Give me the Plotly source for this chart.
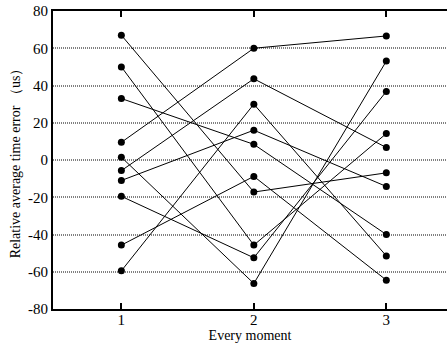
import plotly.graph_objects as go

moments = [1, 2, 3]
series = [
    [67, -17.2, -6.9],
    [50, -45.7, 14.2],
    [33, 8.4, -40],
    [9.5, 60, 66.6],
    [1.5, -66.3, 53.1],
    [-5.7, 43.6, 6.7],
    [-11, 16, -14.2],
    [-19.5, -52.5, 36.8],
    [-45.7, -8.8, -64.5],
    [-59.5, 30, -51.5],
]
y_ticks = [80, 60, 40, 20, 0, -20, -40, -60, -80]
x_ticks = [1, 2, 3]

fig = go.Figure()
for s in series:
    fig.add_trace(go.Scatter(
        x=moments, y=s, mode="lines+markers",
        line=dict(color="black", width=1),
        marker=dict(color="black", size=7),
        showlegend=False, hoverinfo="skip"))

font = dict(family="Liberation Serif", size=14, color="black")
tickfont = dict(family="Liberation Serif", size=15, color="black")
fig.update_layout(
    width=447, height=345,
    margin=dict(l=53, r=0, t=11, b=36),
    paper_bgcolor="white", plot_bgcolor="white",
    font=font,
    xaxis=dict(
        range=[0.484, 3.458], tickvals=x_ticks, ticktext=[str(v) for v in x_ticks],
        showgrid=False, zeroline=False, tickfont=tickfont, ticklabelstandoff=-4,
        showline=True, linecolor="black", linewidth=2, mirror="ticks",
        ticks="inside", ticklen=6, tickwidth=1.5, tickcolor="black",
        title=dict(text="Every moment", standoff=3, font=font),
    ),
    yaxis=dict(
        range=[-80, 80], tickvals=y_ticks, ticktext=[str(v) for v in y_ticks],
        showgrid=True, gridcolor="#808080", griddash="1px,1px", gridwidth=1.5,
        zeroline=False, showline=True, linecolor="black", linewidth=2,
        ticks="", tickfont=tickfont,
        title=dict(text="Relative average time error （us）", standoff=4, font=font),
    ),
)
fig.write_html("out.html")
